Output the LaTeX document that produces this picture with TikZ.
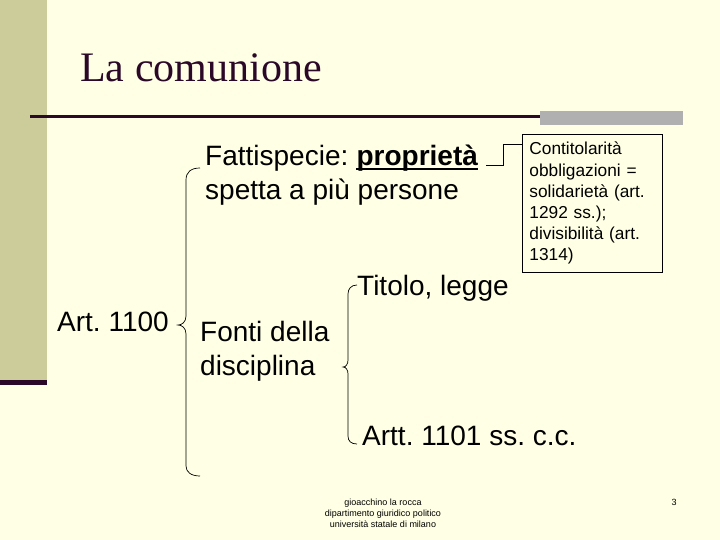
\documentclass[tikz,border=0pt]{standalone}
\usepackage{fontspec}
\setmainfont{Liberation Sans}
\newfontfamily\titlefont{Liberation Serif}
\frenchspacing
\definecolor{bgc}{RGB}{255,255,229}
\definecolor{barc}{RGB}{204,204,155}
\definecolor{darkc}{RGB}{44,8,40}
\definecolor{grayc}{RGB}{176,176,176}
\begin{document}
\begin{tikzpicture}[x=1pt,y=-1pt,
  txt/.style={inner sep=0pt, anchor=base west, font=\fontsize{28}{33}\selectfont},
  foot/.style={inner sep=0pt, anchor=base, font=\fontsize{9}{11}\selectfont},
  boxnode/.style={draw, line width=0.8pt, anchor=north west, inner xsep=7pt, inner ysep=0pt,
    minimum width=140pt, minimum height=138pt, text width=126pt, align=left,
    font=\fontsize{17.3}{21.2}\selectfont},
  brace/.style={line width=0.7pt},
  link/.style={line width=0.7pt}]
\useasboundingbox (0,0) rectangle (720,540);
\fill[bgc] (0,0) rectangle (720,540);
\fill[barc] (0,0) rectangle (47,383);
\fill[darkc] (0,380) rectangle (47,385);
\node[inner sep=0pt, anchor=base west, text=darkc, font=\titlefont\fontsize{42}{48}\selectfont] (title) at (80,82) {La comunione};
\fill[grayc] (540,111) rectangle (683,125);
\draw[darkc, line width=3pt] (30,117) -- (540,117);

\node[txt] (fatt) at (205,166) {Fattispecie:};
\node[txt, font=\fontsize{28}{33}\selectfont\bfseries] (prop) at ([xshift=7.8pt]fatt.base east) {proprietà};
\draw[line width=1.5pt] ([yshift=-3pt]prop.base west) -- ([yshift=-3pt]prop.base east);
\node[txt] (spetta) at (205,200) {spetta a più persone};

\node[boxnode] (box) at (522,134) {Contitolarità\\obbligazioni =\\solidarietà (art.\\1292 ss.);\\divisibilità (art.\\1314)};
\coordinate (ps) at ([xshift=8pt,yshift=1pt]prop.base east);
\draw[link] (ps) -- ++(17,0) |- ([yshift=-10pt]box.north west);

\node[txt] (art) at (57,331) {Art. 1100};
\node[txt] (fonti) at (200,341) {Fonti della};
\node[txt] (disc) at (200,375) {disciplina};
\node[txt] (tit) at (357,295) {Titolo, legge};
\node[txt] (artt) at (362,445) {Artt. 1101 ss. c.c.};

\draw[brace] (200,168) .. controls (191,168) and (186,172) .. (186,180) -- (186,316)
  .. controls (186,322) and (182,325) .. (178,325)
  .. controls (182,325) and (186,328) .. (186,334) -- (186,466)
  .. controls (186,472) and (191,476) .. (200,476);
\draw[brace] (357,285) .. controls (351,285) and (348,289) .. (348,294) -- (348,360)
  .. controls (348,364) and (346,367) .. (343,367)
  .. controls (346,367) and (348,370) .. (348,374) -- (348,436)
  .. controls (348,441) and (351,444) .. (357,444);

\node[foot] (f1) at (383,505) {gioacchino la rocca};
\node[foot] (f2) at (383,516) {dipartimento giuridico politico};
\node[foot] (f3) at (383,527) {università statale di milano};
\node[foot] (pg) at (674,505) {3};
\end{tikzpicture}
\end{document}
